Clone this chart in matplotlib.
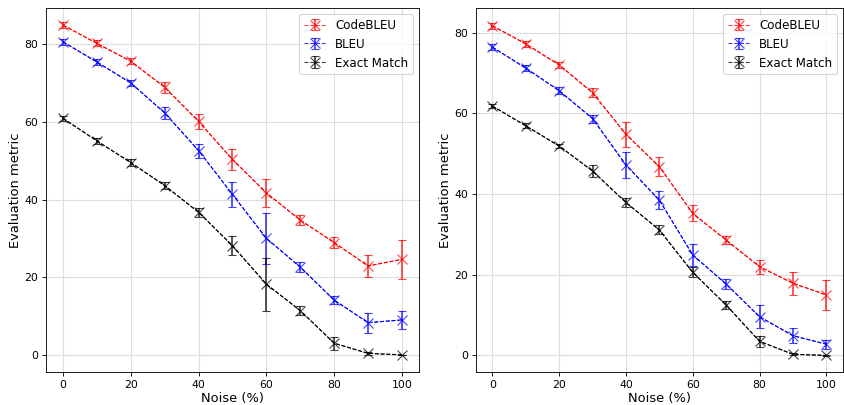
import numpy as np
import matplotlib.pyplot as plt

noise = [0, 10, 20, 30, 40, 50, 60, 70, 80, 90, 100]

# left panel
codebleu_l = [84.9, 80.2, 75.6, 68.9, 60.1, 50.3, 41.7, 34.7, 28.9, 22.9, 24.6]
codebleu_l_err = [0.8, 0.8, 0.8, 1.4, 1.9, 2.8, 3.6, 1.2, 1.4, 2.9, 5.1]
bleu_l = [80.6, 75.4, 70.0, 62.3, 52.6, 41.3, 30.0, 22.6, 14.1, 8.3, 9.0]
bleu_l_err = [0.8, 0.8, 0.8, 1.6, 1.8, 3.3, 6.6, 1.3, 1.1, 2.6, 2.4]
em_l = [60.9, 55.1, 49.5, 43.6, 36.7, 28.1, 18.2, 11.4, 3.0, 0.4, 0.0]
em_l_err = [0.6, 0.8, 0.8, 1.0, 1.2, 2.4, 6.8, 1.1, 1.7, 0.4, 0.1]

# right panel
codebleu_r = [81.7, 77.2, 72.0, 65.1, 54.8, 46.8, 35.2, 28.6, 22.0, 17.9, 15.0]
codebleu_r_err = [0.8, 0.8, 0.8, 1.1, 3.1, 2.3, 2.0, 1.1, 1.7, 2.9, 3.7]
bleu_r = [76.4, 71.2, 65.6, 58.7, 47.2, 38.5, 24.9, 17.7, 9.6, 4.9, 2.8]
bleu_r_err = [0.8, 0.8, 0.8, 1.0, 3.3, 2.3, 2.7, 1.2, 2.8, 1.9, 1.1]
em_r = [61.8, 56.9, 51.9, 45.7, 37.9, 31.1, 20.6, 12.5, 3.5, 0.3, 0.0]
em_r_err = [0.6, 0.6, 0.6, 1.4, 1.0, 1.1, 1.2, 1.1, 1.4, 0.3, 0.1]

DPI = 78
plt.rcParams['font.size'] = 10

fig = plt.figure(figsize=(844 / DPI, 405 / DPI), dpi=DPI)
ax1 = fig.add_axes([0.0545, 0.0815, 0.4419, 0.8988])
ax2 = fig.add_axes([0.5636, 0.0815, 0.4352, 0.8988])

panels = [
    (ax1, codebleu_l, codebleu_l_err, bleu_l, bleu_l_err, em_l, em_l_err),
    (ax2, codebleu_r, codebleu_r_err, bleu_r, bleu_r_err, em_r, em_r_err),
]

for ax, cb, cbe, bl, ble, em, eme in panels:
    for vals, errs, col, lab in [(cb, cbe, 'red', 'CodeBLEU'),
                                 (bl, ble, 'blue', 'BLEU'),
                                 (em, eme, 'black', 'Exact Match')]:
        ax.errorbar(noise, vals, yerr=errs, fmt='x--', color=col, ecolor=col,
                    markersize=10, linewidth=1, elinewidth=1.6, capsize=4,
                    alpha=0.75, label=lab)
        ax.plot(noise, vals, '--', color=col, linewidth=1)
    ax.grid(True, color='#dddddd', linewidth=1)
    ax.set_axisbelow(True)
    ax.set_xlim(-5, 105)
    ax.set_xlabel('Noise (%)', fontsize=12, labelpad=2)
    ax.set_ylabel('Evaluation metric', fontsize=12, labelpad=2)
    ax.set_yticks([0, 20, 40, 60, 80])
    ax.legend(loc='upper right', fontsize=11, labelspacing=0.5,
              handlelength=1.8)

ax1.set_ylim(-4.4, 89.3)
ax2.set_ylim(-4.1, 86.1)

plt.savefig('out.png', dpi=DPI)
